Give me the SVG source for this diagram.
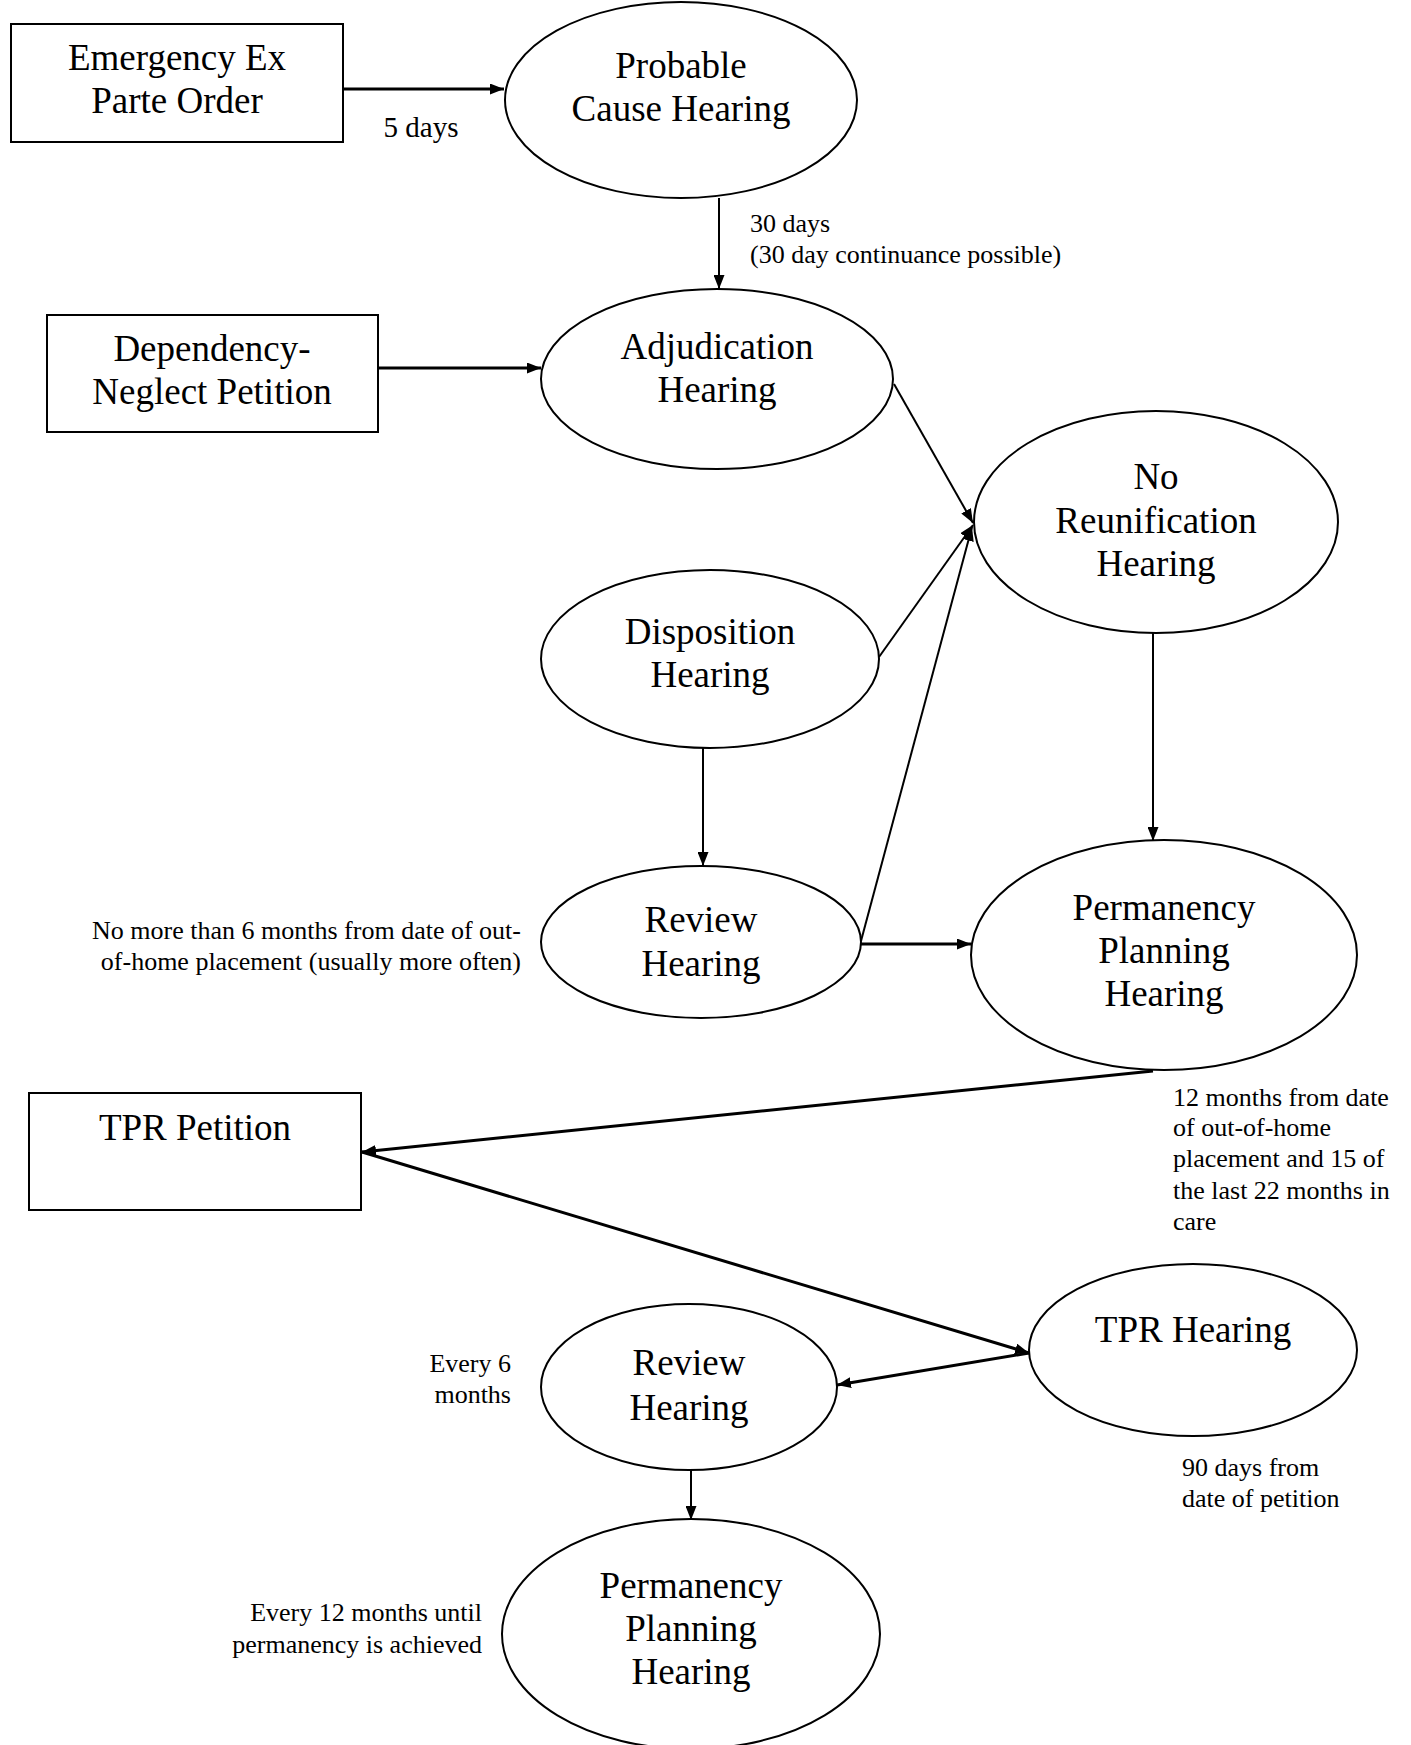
<svg xmlns="http://www.w3.org/2000/svg" width="1411" height="1745" viewBox="0 0 1411 1745">
<style>
.box{fill:#fff;stroke:#000;stroke-width:2}
.node{fill:#fff;stroke:#000;stroke-width:2}
.t{font-family:"Liberation Serif","Times New Roman",serif;font-size:37px;fill:#000;text-anchor:middle}
.s{font-family:"Liberation Serif","Times New Roman",serif;font-size:26px;fill:#000}
.c{fill:none;stroke:#000;stroke-width:2}
.k{fill:none;stroke:#000;stroke-width:3}
</style>
<defs>
<marker id="ah" viewBox="0 0 14 11" refX="14" refY="5.5" markerWidth="14" markerHeight="11" markerUnits="userSpaceOnUse" orient="auto">
<path d="M0,0 L14,5.5 L0,11 z" fill="#000"/>
</marker>
</defs>
<rect width="1411" height="1745" fill="#fff"/>
<g id="connectors">
<line class="k" x1="343" y1="89" x2="504" y2="89" marker-end="url(#ah)"/>
<line class="c" x1="719" y1="198" x2="719" y2="289" marker-end="url(#ah)"/>
<line class="k" x1="378" y1="368" x2="541" y2="368" marker-end="url(#ah)"/>
<line class="c" x1="894" y1="384" x2="973" y2="523" marker-end="url(#ah)"/>
<line class="c" x1="879" y1="657" x2="973" y2="525" marker-end="url(#ah)"/>
<line class="c" x1="861" y1="941" x2="972" y2="527" marker-end="url(#ah)"/>
<line class="c" x1="703" y1="748" x2="703" y2="866" marker-end="url(#ah)"/>
<line class="c" x1="1153" y1="633" x2="1153" y2="841" marker-end="url(#ah)"/>
<line class="k" x1="861" y1="944" x2="971" y2="944" marker-end="url(#ah)"/>
<line class="k" x1="1153" y1="1071" x2="362" y2="1152" marker-end="url(#ah)"/>
<line class="k" x1="362" y1="1152" x2="1029" y2="1353" marker-end="url(#ah)"/>
<line class="k" x1="1029" y1="1353" x2="837" y2="1385" marker-end="url(#ah)"/>
<line class="c" x1="691" y1="1470" x2="691" y2="1520" marker-end="url(#ah)"/>
</g>
<g id="emergency">
<rect class="box" x="11" y="24" width="332" height="118"/>
<text class="t" x="177" y="70">Emergency Ex</text>
<text class="t" x="177" y="113">Parte Order</text>
</g>
<g id="probable">
<ellipse class="node" cx="681" cy="100" rx="176" ry="98"/>
<text class="t" x="681" y="78">Probable</text>
<text class="t" x="681" y="121">Cause Hearing</text>
</g>
<g id="dependency">
<rect class="box" x="47" y="315" width="331" height="117"/>
<text class="t" x="212" y="361">Dependency-</text>
<text class="t" x="212" y="404">Neglect Petition</text>
</g>
<g id="adjudication">
<ellipse class="node" cx="717" cy="379" rx="176" ry="90"/>
<text class="t" x="717" y="359">Adjudication</text>
<text class="t" x="717" y="402">Hearing</text>
</g>
<g id="noreunification">
<ellipse class="node" cx="1156" cy="522" rx="182" ry="111"/>
<text class="t" x="1156" y="489">No</text>
<text class="t" x="1156" y="533">Reunification</text>
<text class="t" x="1156" y="576">Hearing</text>
</g>
<g id="disposition">
<ellipse class="node" cx="710" cy="659" rx="169" ry="89"/>
<text class="t" x="710" y="644">Disposition</text>
<text class="t" x="710" y="687">Hearing</text>
</g>
<g id="review1">
<ellipse class="node" cx="701" cy="942" rx="160" ry="76"/>
<text class="t" x="701" y="932">Review</text>
<text class="t" x="701" y="976">Hearing</text>
</g>
<g id="permanency1">
<ellipse class="node" cx="1164" cy="955" rx="193" ry="115"/>
<text class="t" x="1164" y="920">Permanency</text>
<text class="t" x="1164" y="963">Planning</text>
<text class="t" x="1164" y="1006">Hearing</text>
</g>
<g id="tprpetition">
<rect class="box" x="29" y="1093" width="332" height="117"/>
<text class="t" x="195" y="1140">TPR Petition</text>
</g>
<g id="tprhearing">
<ellipse class="node" cx="1193" cy="1350" rx="164" ry="86"/>
<text class="t" x="1193" y="1342">TPR Hearing</text>
</g>
<g id="review2">
<ellipse class="node" cx="689" cy="1387" rx="148" ry="83"/>
<text class="t" x="689" y="1375">Review</text>
<text class="t" x="689" y="1420">Hearing</text>
</g>
<g id="permanency2">
<ellipse class="node" cx="691" cy="1634" rx="189" ry="115"/>
<text class="t" x="691" y="1598">Permanency</text>
<text class="t" x="691" y="1641">Planning</text>
<text class="t" x="691" y="1684">Hearing</text>
</g>
<g id="labels">
<text class="s" x="421" y="137" style="font-size:29px" text-anchor="middle">5 days</text>
<text class="s" x="750" y="232">30 days</text>
<text class="s" x="750" y="263">(30 day continuance possible)</text>
<text class="s" x="521" y="939" text-anchor="end">No more than 6 months from date of out-</text>
<text class="s" x="521" y="970" text-anchor="end">of-home placement (usually more often)</text>
<text class="s" x="1173" y="1106">12 months from date</text>
<text class="s" x="1173" y="1136">of out-of-home</text>
<text class="s" x="1173" y="1167">placement and 15 of</text>
<text class="s" x="1173" y="1199">the last 22 months in</text>
<text class="s" x="1173" y="1230">care</text>
<text class="s" x="511" y="1372" text-anchor="end">Every 6</text>
<text class="s" x="511" y="1403" text-anchor="end">months</text>
<text class="s" x="1182" y="1476">90 days from</text>
<text class="s" x="1182" y="1507">date of petition</text>
<text class="s" x="482" y="1621" text-anchor="end">Every 12 months until</text>
<text class="s" x="482" y="1653" text-anchor="end">permanency is achieved</text>
</g>
</svg>
